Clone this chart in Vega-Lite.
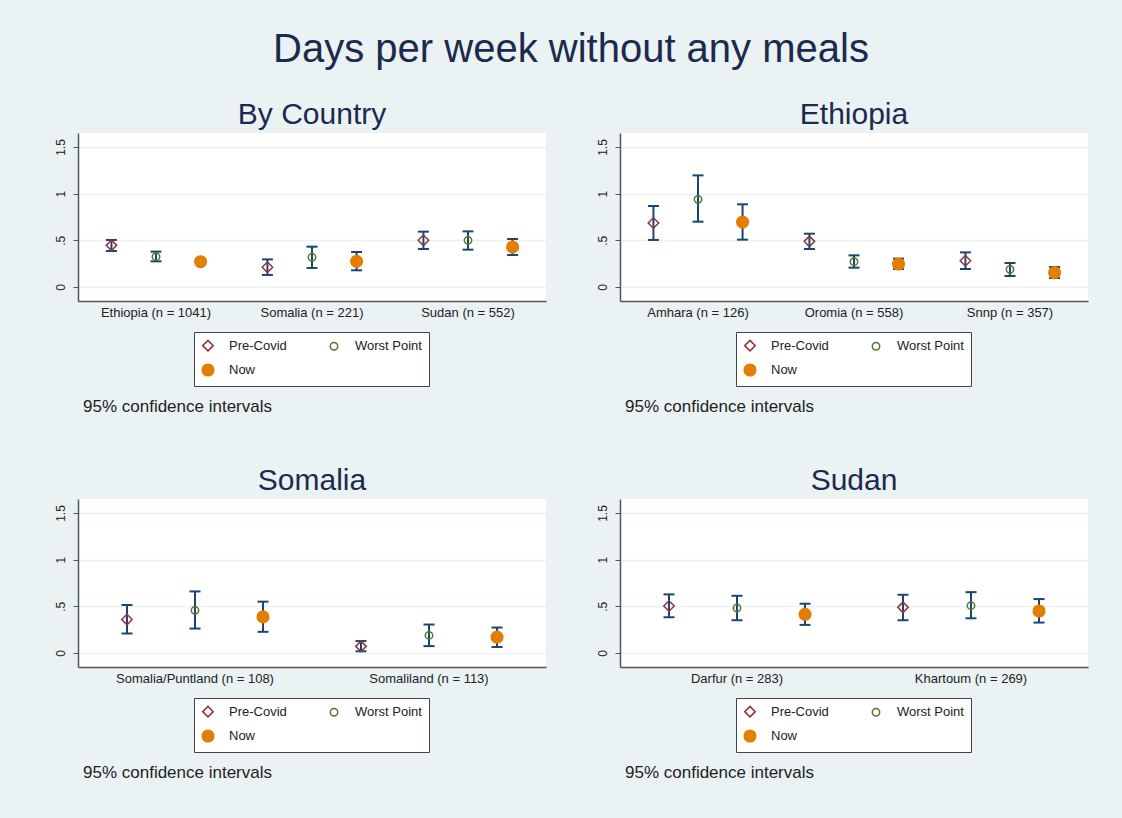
{
  "$schema": "https://vega.github.io/schema/vega-lite/v6.json",
  "background": "#eaf2f3",
  "padding": {"left": 54, "top": 30, "right": 34, "bottom": 38},
  "title": {"text": "Days per week without any meals", "fontSize": 40, "anchor": "middle", "offset": 30},
  "datasets": {
    "country": [
      {"group": "Ethiopia (n = 1041)", "series": "Pre-Covid", "mean": 0.446, "lo": 0.386, "hi": 0.504},
      {"group": "Ethiopia (n = 1041)", "series": "Worst Point", "mean": 0.325, "lo": 0.275, "hi": 0.379},
      {"group": "Ethiopia (n = 1041)", "series": "Now", "mean": 0.271, "lo": 0.245, "hi": 0.300},
      {"group": "Somalia (n = 221)", "series": "Pre-Covid", "mean": 0.211, "lo": 0.129, "hi": 0.296},
      {"group": "Somalia (n = 221)", "series": "Worst Point", "mean": 0.318, "lo": 0.204, "hi": 0.432},
      {"group": "Somalia (n = 221)", "series": "Now", "mean": 0.275, "lo": 0.179, "hi": 0.375},
      {"group": "Sudan (n = 552)", "series": "Pre-Covid", "mean": 0.500, "lo": 0.407, "hi": 0.593},
      {"group": "Sudan (n = 552)", "series": "Worst Point", "mean": 0.500, "lo": 0.400, "hi": 0.596},
      {"group": "Sudan (n = 552)", "series": "Now", "mean": 0.429, "lo": 0.343, "hi": 0.514}
    ],
    "ethiopia": [
      {"group": "Amhara (n = 126)", "series": "Pre-Covid", "mean": 0.686, "lo": 0.504, "hi": 0.868},
      {"group": "Amhara (n = 126)", "series": "Worst Point", "mean": 0.939, "lo": 0.700, "hi": 1.196},
      {"group": "Amhara (n = 126)", "series": "Now", "mean": 0.696, "lo": 0.507, "hi": 0.886},
      {"group": "Oromia (n = 558)", "series": "Pre-Covid", "mean": 0.489, "lo": 0.407, "hi": 0.571},
      {"group": "Oromia (n = 558)", "series": "Worst Point", "mean": 0.271, "lo": 0.207, "hi": 0.339},
      {"group": "Oromia (n = 558)", "series": "Now", "mean": 0.246, "lo": 0.193, "hi": 0.304},
      {"group": "Snnp (n = 357)", "series": "Pre-Covid", "mean": 0.282, "lo": 0.193, "hi": 0.371},
      {"group": "Snnp (n = 357)", "series": "Worst Point", "mean": 0.189, "lo": 0.118, "hi": 0.257},
      {"group": "Snnp (n = 357)", "series": "Now", "mean": 0.154, "lo": 0.096, "hi": 0.214}
    ],
    "somalia": [
      {"group": "Somalia/Puntland (n = 108)", "series": "Pre-Covid", "mean": 0.358, "lo": 0.209, "hi": 0.514},
      {"group": "Somalia/Puntland (n = 108)", "series": "Worst Point", "mean": 0.457, "lo": 0.262, "hi": 0.660},
      {"group": "Somalia/Puntland (n = 108)", "series": "Now", "mean": 0.387, "lo": 0.227, "hi": 0.550},
      {"group": "Somaliland (n = 113)", "series": "Pre-Covid", "mean": 0.071, "lo": 0.018, "hi": 0.128},
      {"group": "Somaliland (n = 113)", "series": "Worst Point", "mean": 0.188, "lo": 0.074, "hi": 0.305},
      {"group": "Somaliland (n = 113)", "series": "Now", "mean": 0.170, "lo": 0.064, "hi": 0.273}
    ],
    "sudan": [
      {"group": "Darfur (n = 283)", "series": "Pre-Covid", "mean": 0.504, "lo": 0.383, "hi": 0.628},
      {"group": "Darfur (n = 283)", "series": "Worst Point", "mean": 0.482, "lo": 0.351, "hi": 0.613},
      {"group": "Darfur (n = 283)", "series": "Now", "mean": 0.415, "lo": 0.301, "hi": 0.528},
      {"group": "Khartoum (n = 269)", "series": "Pre-Covid", "mean": 0.489, "lo": 0.351, "hi": 0.624},
      {"group": "Khartoum (n = 269)", "series": "Worst Point", "mean": 0.507, "lo": 0.372, "hi": 0.652},
      {"group": "Khartoum (n = 269)", "series": "Now", "mean": 0.450, "lo": 0.326, "hi": 0.578}
    ]
  },
  "resolve": {
    "scale": {"x": "independent", "xOffset": "independent", "y": "independent", "shape": "independent", "stroke": "independent", "fill": "independent", "size": "independent"},
    "legend": {"shape": "independent", "stroke": "independent", "fill": "independent", "size": "independent"}
  },
  "spacing": 51,
  "vconcat": [
    {
      "spacing": 50,
      "resolve": {
        "scale": {"x": "independent", "xOffset": "independent", "y": "independent", "shape": "independent", "stroke": "independent", "fill": "independent", "size": "independent"},
        "legend": {"shape": "independent", "stroke": "independent", "fill": "independent", "size": "independent"}
      },
      "hconcat": [
        {
          "title": {"text": "95% confidence intervals", "orient": "bottom", "anchor": "start", "fontSize": 17, "color": "#222222", "dx": 29, "offset": 12},
          "resolve": {
            "scale": {"x": "independent", "xOffset": "independent", "y": "independent", "shape": "independent", "stroke": "independent", "fill": "independent", "size": "independent"},
            "legend": {"shape": "independent", "stroke": "independent", "fill": "independent", "size": "independent"}
          },
          "vconcat": [
            {
              "width": 468, "height": 168,
              "title": {"text": "By Country", "fontSize": 30, "offset": 3},
              "data": {"name": "country"},
              "encoding": {
                "x": {"field": "group", "type": "nominal", "sort": null, "title": null, "scale": {"paddingInner": 0, "paddingOuter": 0}, "axis": {"ticks": false, "labelAngle": 0, "labelFontSize": 13, "labelPadding": 5, "domainWidth": 1.5, "grid": false}},
                "xOffset": {"field": "series", "type": "nominal", "sort": ["Pre-Covid", "Worst Point", "Now"], "scale": {"domain": ["Pre-Covid", "Worst Point", "Now"], "paddingInner": 0, "paddingOuter": 0.25}}
              },
              "layer": [
                {"mark": {"type": "rule", "color": "#1a476f", "strokeWidth": 2},
                 "encoding": {"y": {"field": "lo", "type": "quantitative", "title": null, "scale": {"domain": [-0.15, 1.65], "nice": false, "zero": false}, "axis": {"values": [0, 0.5, 1, 1.5], "labelExpr": "datum.value == 0 ? '0' : datum.value == 0.5 ? '.5' : datum.value == 1 ? '1' : '1.5'", "labelAngle": -90, "labelAlign": "center", "labelBaseline": "bottom", "labelFontSize": 12, "labelPadding": 6, "tickSize": 5, "domainWidth": 1.5, "grid": true, "gridColor": "#eaf2f3", "gridWidth": 1.5}},
                   "y2": {"field": "hi"}}},
                {"mark": {"type": "tick", "color": "#1a476f", "thickness": 2, "size": 11, "opacity": 1},
                 "encoding": {"y": {"field": "lo", "type": "quantitative"}}},
                {"mark": {"type": "tick", "color": "#1a476f", "thickness": 2, "size": 11, "opacity": 1},
                 "encoding": {"y": {"field": "hi", "type": "quantitative"}}},
                {"mark": {"type": "point", "strokeWidth": 1.5, "opacity": 1},
                 "encoding": {
                   "y": {"field": "mean", "type": "quantitative"},
                   "shape": {"field": "series", "type": "nominal", "title": null, "scale": {"domain": ["Pre-Covid", "Worst Point", "Now"], "range": ["diamond", "circle", "circle"]}},
                   "stroke": {"field": "series", "type": "nominal", "title": null, "scale": {"domain": ["Pre-Covid", "Worst Point", "Now"], "range": ["#90353b", "#55752f", "#e37e00"]}},
                   "fill": {"field": "series", "type": "nominal", "title": null, "scale": {"domain": ["Pre-Covid", "Worst Point", "Now"], "range": ["transparent", "transparent", "#e37e00"]}},
                   "size": {"field": "series", "type": "nominal", "title": null, "scale": {"type": "ordinal", "domain": ["Pre-Covid", "Worst Point", "Now"], "range": [110, 55, 135]}}
                 }}
              ]
            }
          ]
        },
        {
          "title": {"text": "95% confidence intervals", "orient": "bottom", "anchor": "start", "fontSize": 17, "color": "#222222", "dx": 29, "offset": 12},
          "resolve": {
            "scale": {"x": "independent", "xOffset": "independent", "y": "independent", "shape": "independent", "stroke": "independent", "fill": "independent", "size": "independent"},
            "legend": {"shape": "independent", "stroke": "independent", "fill": "independent", "size": "independent"}
          },
          "vconcat": [
            {
              "width": 468, "height": 168,
              "title": {"text": "Ethiopia", "fontSize": 30, "offset": 3},
              "data": {"name": "ethiopia"},
              "encoding": {
                "x": {"field": "group", "type": "nominal", "sort": null, "title": null, "scale": {"paddingInner": 0, "paddingOuter": 0}, "axis": {"ticks": false, "labelAngle": 0, "labelFontSize": 13, "labelPadding": 5, "domainWidth": 1.5, "grid": false}},
                "xOffset": {"field": "series", "type": "nominal", "sort": ["Pre-Covid", "Worst Point", "Now"], "scale": {"domain": ["Pre-Covid", "Worst Point", "Now"], "paddingInner": 0, "paddingOuter": 0.25}}
              },
              "layer": [
                {"mark": {"type": "rule", "color": "#1a476f", "strokeWidth": 2},
                 "encoding": {"y": {"field": "lo", "type": "quantitative", "title": null, "scale": {"domain": [-0.15, 1.65], "nice": false, "zero": false}, "axis": {"values": [0, 0.5, 1, 1.5], "labelExpr": "datum.value == 0 ? '0' : datum.value == 0.5 ? '.5' : datum.value == 1 ? '1' : '1.5'", "labelAngle": -90, "labelAlign": "center", "labelBaseline": "bottom", "labelFontSize": 12, "labelPadding": 6, "tickSize": 5, "domainWidth": 1.5, "grid": true, "gridColor": "#eaf2f3", "gridWidth": 1.5}},
                   "y2": {"field": "hi"}}},
                {"mark": {"type": "tick", "color": "#1a476f", "thickness": 2, "size": 11, "opacity": 1},
                 "encoding": {"y": {"field": "lo", "type": "quantitative"}}},
                {"mark": {"type": "tick", "color": "#1a476f", "thickness": 2, "size": 11, "opacity": 1},
                 "encoding": {"y": {"field": "hi", "type": "quantitative"}}},
                {"mark": {"type": "point", "strokeWidth": 1.5, "opacity": 1},
                 "encoding": {
                   "y": {"field": "mean", "type": "quantitative"},
                   "shape": {"field": "series", "type": "nominal", "title": null, "scale": {"domain": ["Pre-Covid", "Worst Point", "Now"], "range": ["diamond", "circle", "circle"]}},
                   "stroke": {"field": "series", "type": "nominal", "title": null, "scale": {"domain": ["Pre-Covid", "Worst Point", "Now"], "range": ["#90353b", "#55752f", "#e37e00"]}},
                   "fill": {"field": "series", "type": "nominal", "title": null, "scale": {"domain": ["Pre-Covid", "Worst Point", "Now"], "range": ["transparent", "transparent", "#e37e00"]}},
                   "size": {"field": "series", "type": "nominal", "title": null, "scale": {"type": "ordinal", "domain": ["Pre-Covid", "Worst Point", "Now"], "range": [110, 55, 135]}}
                 }}
              ]
            }
          ]
        }
      ]
    },
    {
      "spacing": 50,
      "resolve": {
        "scale": {"x": "independent", "xOffset": "independent", "y": "independent", "shape": "independent", "stroke": "independent", "fill": "independent", "size": "independent"},
        "legend": {"shape": "independent", "stroke": "independent", "fill": "independent", "size": "independent"}
      },
      "hconcat": [
        {
          "title": {"text": "95% confidence intervals", "orient": "bottom", "anchor": "start", "fontSize": 17, "color": "#222222", "dx": 29, "offset": 12},
          "resolve": {
            "scale": {"x": "independent", "xOffset": "independent", "y": "independent", "shape": "independent", "stroke": "independent", "fill": "independent", "size": "independent"},
            "legend": {"shape": "independent", "stroke": "independent", "fill": "independent", "size": "independent"}
          },
          "vconcat": [
            {
              "width": 468, "height": 168,
              "title": {"text": "Somalia", "fontSize": 30, "offset": 3},
              "data": {"name": "somalia"},
              "encoding": {
                "x": {"field": "group", "type": "nominal", "sort": null, "title": null, "scale": {"paddingInner": 0, "paddingOuter": 0}, "axis": {"ticks": false, "labelAngle": 0, "labelFontSize": 13, "labelPadding": 5, "domainWidth": 1.5, "grid": false}},
                "xOffset": {"field": "series", "type": "nominal", "sort": ["Pre-Covid", "Worst Point", "Now"], "scale": {"domain": ["Pre-Covid", "Worst Point", "Now"], "paddingInner": 0, "paddingOuter": 0.22}}
              },
              "layer": [
                {"mark": {"type": "rule", "color": "#1a476f", "strokeWidth": 2},
                 "encoding": {"y": {"field": "lo", "type": "quantitative", "title": null, "scale": {"domain": [-0.15, 1.65], "nice": false, "zero": false}, "axis": {"values": [0, 0.5, 1, 1.5], "labelExpr": "datum.value == 0 ? '0' : datum.value == 0.5 ? '.5' : datum.value == 1 ? '1' : '1.5'", "labelAngle": -90, "labelAlign": "center", "labelBaseline": "bottom", "labelFontSize": 12, "labelPadding": 6, "tickSize": 5, "domainWidth": 1.5, "grid": true, "gridColor": "#eaf2f3", "gridWidth": 1.5}},
                   "y2": {"field": "hi"}}},
                {"mark": {"type": "tick", "color": "#1a476f", "thickness": 2, "size": 11, "opacity": 1},
                 "encoding": {"y": {"field": "lo", "type": "quantitative"}}},
                {"mark": {"type": "tick", "color": "#1a476f", "thickness": 2, "size": 11, "opacity": 1},
                 "encoding": {"y": {"field": "hi", "type": "quantitative"}}},
                {"mark": {"type": "point", "strokeWidth": 1.5, "opacity": 1},
                 "encoding": {
                   "y": {"field": "mean", "type": "quantitative"},
                   "shape": {"field": "series", "type": "nominal", "title": null, "scale": {"domain": ["Pre-Covid", "Worst Point", "Now"], "range": ["diamond", "circle", "circle"]}},
                   "stroke": {"field": "series", "type": "nominal", "title": null, "scale": {"domain": ["Pre-Covid", "Worst Point", "Now"], "range": ["#90353b", "#55752f", "#e37e00"]}},
                   "fill": {"field": "series", "type": "nominal", "title": null, "scale": {"domain": ["Pre-Covid", "Worst Point", "Now"], "range": ["transparent", "transparent", "#e37e00"]}},
                   "size": {"field": "series", "type": "nominal", "title": null, "scale": {"type": "ordinal", "domain": ["Pre-Covid", "Worst Point", "Now"], "range": [110, 55, 135]}}
                 }}
              ]
            }
          ]
        },
        {
          "title": {"text": "95% confidence intervals", "orient": "bottom", "anchor": "start", "fontSize": 17, "color": "#222222", "dx": 29, "offset": 12},
          "resolve": {
            "scale": {"x": "independent", "xOffset": "independent", "y": "independent", "shape": "independent", "stroke": "independent", "fill": "independent", "size": "independent"},
            "legend": {"shape": "independent", "stroke": "independent", "fill": "independent", "size": "independent"}
          },
          "vconcat": [
            {
              "width": 468, "height": 168,
              "title": {"text": "Sudan", "fontSize": 30, "offset": 3},
              "data": {"name": "sudan"},
              "encoding": {
                "x": {"field": "group", "type": "nominal", "sort": null, "title": null, "scale": {"paddingInner": 0, "paddingOuter": 0}, "axis": {"ticks": false, "labelAngle": 0, "labelFontSize": 13, "labelPadding": 5, "domainWidth": 1.5, "grid": false}},
                "xOffset": {"field": "series", "type": "nominal", "sort": ["Pre-Covid", "Worst Point", "Now"], "scale": {"domain": ["Pre-Covid", "Worst Point", "Now"], "paddingInner": 0, "paddingOuter": 0.22}}
              },
              "layer": [
                {"mark": {"type": "rule", "color": "#1a476f", "strokeWidth": 2},
                 "encoding": {"y": {"field": "lo", "type": "quantitative", "title": null, "scale": {"domain": [-0.15, 1.65], "nice": false, "zero": false}, "axis": {"values": [0, 0.5, 1, 1.5], "labelExpr": "datum.value == 0 ? '0' : datum.value == 0.5 ? '.5' : datum.value == 1 ? '1' : '1.5'", "labelAngle": -90, "labelAlign": "center", "labelBaseline": "bottom", "labelFontSize": 12, "labelPadding": 6, "tickSize": 5, "domainWidth": 1.5, "grid": true, "gridColor": "#eaf2f3", "gridWidth": 1.5}},
                   "y2": {"field": "hi"}}},
                {"mark": {"type": "tick", "color": "#1a476f", "thickness": 2, "size": 11, "opacity": 1},
                 "encoding": {"y": {"field": "lo", "type": "quantitative"}}},
                {"mark": {"type": "tick", "color": "#1a476f", "thickness": 2, "size": 11, "opacity": 1},
                 "encoding": {"y": {"field": "hi", "type": "quantitative"}}},
                {"mark": {"type": "point", "strokeWidth": 1.5, "opacity": 1},
                 "encoding": {
                   "y": {"field": "mean", "type": "quantitative"},
                   "shape": {"field": "series", "type": "nominal", "title": null, "scale": {"domain": ["Pre-Covid", "Worst Point", "Now"], "range": ["diamond", "circle", "circle"]}},
                   "stroke": {"field": "series", "type": "nominal", "title": null, "scale": {"domain": ["Pre-Covid", "Worst Point", "Now"], "range": ["#90353b", "#55752f", "#e37e00"]}},
                   "fill": {"field": "series", "type": "nominal", "title": null, "scale": {"domain": ["Pre-Covid", "Worst Point", "Now"], "range": ["transparent", "transparent", "#e37e00"]}},
                   "size": {"field": "series", "type": "nominal", "title": null, "scale": {"type": "ordinal", "domain": ["Pre-Covid", "Worst Point", "Now"], "range": [110, 55, 135]}}
                 }}
              ]
            }
          ]
        }
      ]
    }
  ],
  "config": {
    "font": "Liberation Sans",
    "view": {"fill": "white", "stroke": null},
    "title": {"font": "Liberation Sans", "fontWeight": "normal", "color": "#1c2a4e"},
    "axis": {"labelFont": "Liberation Sans", "labelColor": "#222222", "domainColor": "#555555", "tickColor": "#555555"},
    "legend": {"orient": "none", "legendX": 116, "legendY": 199, "direction": "horizontal", "columns": 2, "strokeColor": "#444444", "fillColor": "white", "padding": 7, "labelFontSize": 13, "labelColor": "#222222", "labelFont": "Liberation Sans", "columnPadding": 40, "rowPadding": 7, "symbolStrokeWidth": 1.5, "labelOffset": 14}
  }
}
